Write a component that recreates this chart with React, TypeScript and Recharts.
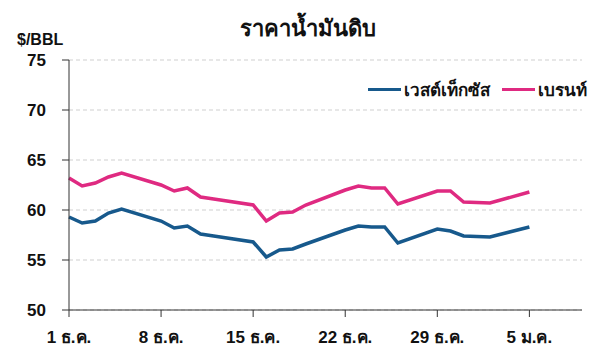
import React from "react";
import {
  LineChart,
  Line,
  XAxis,
  YAxis,
  CartesianGrid,
} from "recharts";

// day offset from 1 Dec (trading days only)
const DAYS = [0, 1, 2, 3, 4, 7, 8, 9, 10, 11, 14, 15, 16, 17, 18, 21, 22, 23, 24, 25, 28, 29, 30, 32, 35];
const WTI = [59.3, 58.7, 58.9, 59.7, 60.1, 58.9, 58.2, 58.4, 57.6, 57.4, 56.8, 55.3, 56.0, 56.1, 56.6, 58.0, 58.4, 58.3, 58.3, 56.7, 58.1, 57.9, 57.4, 57.3, 58.3];
const BRENT = [63.2, 62.4, 62.7, 63.3, 63.7, 62.5, 61.9, 62.2, 61.3, 61.1, 60.5, 58.9, 59.7, 59.8, 60.5, 62.0, 62.4, 62.2, 62.2, 60.6, 61.9, 61.9, 60.8, 60.7, 61.8];

const X_TICKS = [0, 7, 14, 21, 28, 35];
const X_LABELS = ["1 ธ.ค.", "8 ธ.ค.", "15 ธ.ค.", "22 ธ.ค.", "29 ธ.ค.", "5 ม.ค."];
const Y_TICKS = [50, 55, 60, 65, 70, 75];

const WTI_NAME = "เวสต์เท็กซัส";
const BRENT_NAME = "เบรนท์";
const TITLE = "ราคาน้ำมันดิบ";
const UNIT = "$/BBL";

const WTI_COLOR = "#17598c";
const BRENT_COLOR = "#df2a81";
const FONT = "'Liberation Sans', Arial, sans-serif";

const data = DAYS.map((d, i) => ({ day: d, wti: WTI[i], brent: BRENT[i] }));

function LegendBox() {
  const items = [
    { name: WTI_NAME, color: WTI_COLOR },
    { name: BRENT_NAME, color: BRENT_COLOR },
  ];
  return (
    <div
      style={{
        position: "absolute",
        top: 76,
        left: 368,
        display: "flex",
        alignItems: "center",
        gap: 12,
      }}
    >
      {items.map((it) => (
        <div key={it.name} style={{ display: "flex", alignItems: "center" }}>
          <span
            style={{
              display: "inline-block",
              width: 33,
              height: 3,
              background: it.color,
              marginRight: 3,
            }}
          />
          <span style={{ fontSize: 17, fontWeight: 600, color: "#111" }}>
            {it.name}
          </span>
        </div>
      ))}
    </div>
  );
}

export default function App() {
  return (
    <div
      style={{
        position: "absolute",
        left: 0,
        top: 0,
        width: 600,
        height: 361,
        background: "#fff",
        fontFamily: FONT,
      }}
    >
      <div
        style={{
          position: "absolute",
          top: 11,
          left: 0,
          width: 616,
          textAlign: "center",
          fontSize: 22,
          fontWeight: 700,
          color: "#111",
        }}
      >
        {TITLE}
      </div>
      <div
        style={{
          position: "absolute",
          top: 31,
          left: 17,
          fontSize: 16,
          fontWeight: 700,
          color: "#111",
        }}
      >
        {UNIT}
      </div>
      <LineChart
        width={600}
        height={361}
        data={data}
        margin={{ top: 60, right: 18, bottom: 0, left: 0 }}
      >
        <CartesianGrid
          vertical={false}
          stroke="#cfcfcf"
          strokeDasharray="4 3"
        />
        <XAxis
          dataKey="day"
          type="number"
          domain={[0, 39]}
          ticks={X_TICKS}
          tickFormatter={(v) => X_LABELS[X_TICKS.indexOf(v)] ?? ""}
          height={51}
          stroke="#333"
          tickSize={7}
          tickMargin={14}
          tick={{ fontSize: 17, fontWeight: 700, fill: "#111" }}
          interval={0}
        />
        <YAxis
          domain={[50, 75]}
          ticks={Y_TICKS}
          width={69}
          stroke="#333"
          tickSize={7}
          tickMargin={16}
          tick={{ fontSize: 17, fontWeight: 700, fill: "#111" }}
          interval={0}
        />
        <Line
          type="linear"
          dataKey="wti"
          name={WTI_NAME}
          stroke={WTI_COLOR}
          strokeWidth={3.5}
          dot={false}
          isAnimationActive={false}
        />
        <Line
          type="linear"
          dataKey="brent"
          name={BRENT_NAME}
          stroke={BRENT_COLOR}
          strokeWidth={3.5}
          dot={false}
          isAnimationActive={false}
        />
      </LineChart>
      <LegendBox />
    </div>
  );
}
